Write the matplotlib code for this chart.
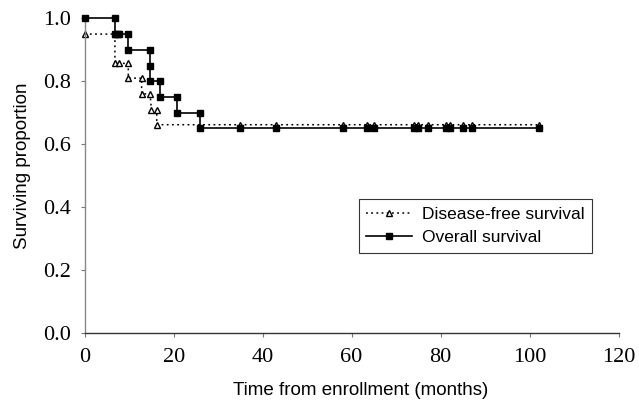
import matplotlib
matplotlib.use("Agg")
import matplotlib.pyplot as plt

# Overall survival points (time in months, surviving proportion)
os_t = [0, 6.8, 6.8, 7.4, 7.8, 9.8, 9.8, 14.7, 14.7, 14.7, 16.9, 16.9, 20.7, 20.7, 25.9, 25.9,
        35, 43, 58, 63.5, 65, 74, 75, 77.2, 81.2, 82.1, 85.1, 87, 102.2]
os_s = [1.0, 1.0, 0.95, 0.95, 0.95, 0.95, 0.90, 0.90, 0.85, 0.80, 0.80, 0.75, 0.75, 0.70, 0.70, 0.65,
        0.65, 0.65, 0.65, 0.65, 0.65, 0.65, 0.65, 0.65, 0.65, 0.65, 0.65, 0.65, 0.65]

# Disease-free survival points
dfs_t = [0, 6.8, 6.8, 7.8, 9.8, 9.8, 12.8, 12.8, 14.7, 15.0, 16.2, 16.2,
         35, 43, 58, 63.5, 65, 74, 75, 77.2, 81.2, 82.1, 85.1, 87, 102.2]
dfs_s = [0.95, 0.95, 0.857, 0.857, 0.857, 0.81, 0.81, 0.76, 0.76, 0.71, 0.71, 0.662,
         0.662, 0.662, 0.662, 0.662, 0.662, 0.662, 0.662, 0.662, 0.662, 0.662, 0.662, 0.662, 0.662]

x_ticks = [0, 20, 40, 60, 80, 100, 120]
y_ticks = [0.0, 0.2, 0.4, 0.6, 0.8, 1.0]

fig = plt.figure(figsize=(6.39, 4.08), dpi=100)
ax = fig.add_axes([0.1325, 0.1838, 0.8355, 0.7712])

ax.plot(dfs_t, dfs_s, linestyle=(0, (1.2, 2.2)), color='black', linewidth=1.1,
        marker='^', markersize=5, markerfacecolor='white', markeredgecolor='black',
        markeredgewidth=1.0, clip_on=False, zorder=2, label='Disease-free survival')
ax.plot(os_t, os_s, linestyle='-', color='black', linewidth=1.2,
        marker='s', markersize=4.7, markerfacecolor='black', markeredgecolor='black',
        clip_on=False, zorder=3, label='Overall survival')

ax.set_xlim(0, 120)
ax.set_ylim(0, 1.0)
ax.set_xticks(x_ticks)
ax.set_yticks(y_ticks)
ax.set_xticklabels([str(v) for v in x_ticks], family='Liberation Serif', fontsize=16)
ax.set_yticklabels([f"{v:.1f}" for v in y_ticks], family='Liberation Serif', fontsize=16)
ax.tick_params(axis='both', direction='out', length=3, width=0.8, color='#777777')
ax.tick_params(axis='x', pad=8)
ax.tick_params(axis='y', pad=6.5)

for s in ['top', 'right']:
    ax.spines[s].set_visible(False)
ax.spines['left'].set_color('#888888')
ax.spines['bottom'].set_color('#333333')
ax.spines['left'].set_linewidth(1.0)
ax.spines['bottom'].set_linewidth(1.0)

ax.set_xlabel('Time from enrollment (months)', family='Liberation Sans', fontsize=13.5)
ax.set_ylabel('Surviving proportion', family='Liberation Sans', fontsize=13.5)
ax.xaxis.set_label_coords(0.517, -0.155)
ax.yaxis.set_label_coords(-0.1, 0.53)

leg = ax.legend(loc='upper left', bbox_to_anchor=(0.513, 0.426), prop={'family': 'Liberation Sans', 'size': 12.5},
                frameon=True, fancybox=False, edgecolor='black', handlelength=2.6, borderpad=0.45,
                labelspacing=0.45, handletextpad=0.6, borderaxespad=0)
leg.get_frame().set_linewidth(0.8)

fig.savefig('out.png', dpi=100)
